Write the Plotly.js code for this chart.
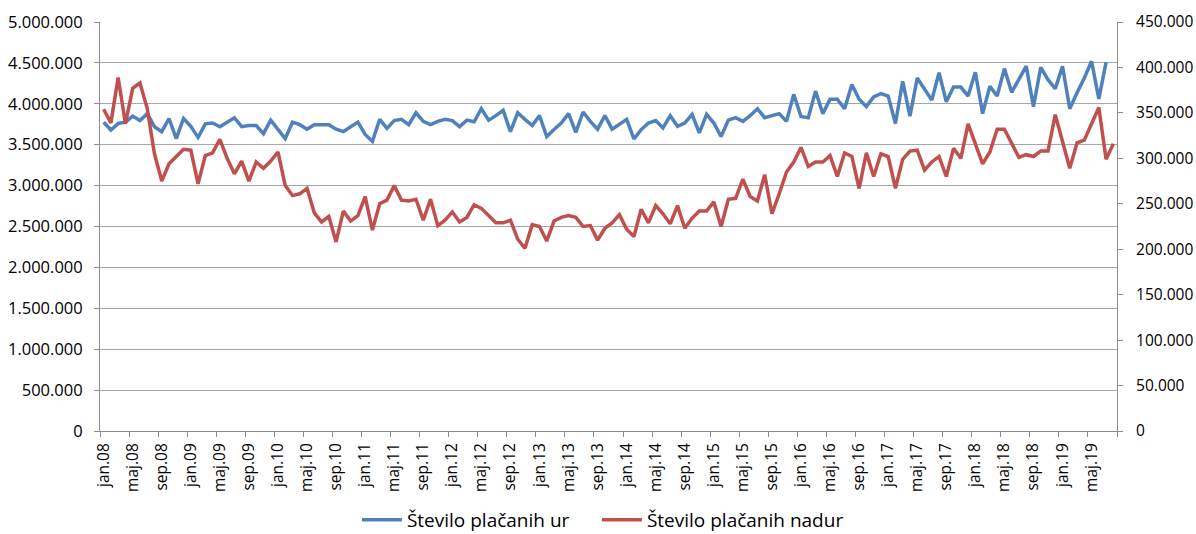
<!DOCTYPE html>
<html>
<head>
<meta charset="utf-8">
<script src="https://cdn.plot.ly/plotly-3.0.1.min.js"></script>
<style>
  html, body { margin: 0; padding: 0; background: #ffffff; }
  #chart { width: 1196px; height: 534px; }
</style>
</head>
<body>
<div id="chart"></div>
<script>
// Month names (Slovenian) and years for the category axis
const monthNames = ["jan","feb","mar","apr","maj","jun","jul","avg","sep","okt","nov","dec"];
const years = ["08","09","10","11","12","13","14","15","16","17","18","19"];
const lastMonthIndex2019 = 7; // data through avg.19

// Število plačanih ur (left axis), jan.08 – jul.19
const placaneUre = [
  3775000, 3680000, 3760000, 3775000, 3850000, 3795000, 3880000, 3720000, 3660000, 3820000, 3575000, 3820000,
  3725000, 3590000, 3755000, 3765000, 3720000, 3780000, 3830000, 3720000, 3735000, 3735000, 3635000, 3800000,
  3685000, 3575000, 3775000, 3745000, 3690000, 3745000, 3745000, 3745000, 3690000, 3660000, 3720000, 3775000,
  3625000, 3540000, 3810000, 3700000, 3795000, 3810000, 3745000, 3890000, 3785000, 3745000, 3785000, 3810000,
  3795000, 3720000, 3800000, 3780000, 3940000, 3800000, 3855000, 3920000, 3660000, 3890000, 3810000, 3735000,
  3855000, 3600000, 3685000, 3765000, 3880000, 3650000, 3900000, 3785000, 3690000, 3855000, 3690000, 3745000,
  3810000, 3570000, 3685000, 3765000, 3795000, 3705000, 3855000, 3725000, 3765000, 3870000, 3645000, 3870000,
  3765000, 3600000, 3800000, 3830000, 3785000, 3855000, 3940000, 3830000, 3855000, 3880000, 3785000, 4115000,
  3845000, 3830000, 4155000, 3880000, 4055000, 4055000, 3940000, 4235000, 4055000, 3965000, 4085000, 4125000,
  4095000, 3760000, 4275000, 3850000, 4315000, 4185000, 4045000, 4380000, 4025000, 4205000, 4205000, 4095000,
  4385000, 3880000, 4215000, 4095000, 4430000, 4140000, 4295000, 4460000, 3965000, 4445000, 4295000, 4185000,
  4460000, 3940000, 4135000, 4315000, 4520000, 4060000, 4510000
];

// Število plačanih nadur (right axis), jan.08 – avg.19
const placaneNadure = [
  354000, 339000, 389000, 338000, 377000, 383000, 355000, 305000, 275000, 294000, 302000, 310000,
  309000, 272000, 303000, 306000, 321000, 300000, 283000, 297000, 275000, 296000, 289000, 297000,
  307000, 270000, 259000, 261000, 267000, 240000, 230000, 236000, 208000, 242000, 231000, 237000,
  258000, 221000, 250000, 254000, 270000, 254000, 253000, 255000, 232000, 255000, 226000, 232000,
  241000, 230000, 235000, 249000, 245000, 237000, 229000, 229000, 232000, 211000, 201000, 227000,
  225000, 209000, 231000, 235000, 237000, 235000, 225000, 226000, 210000, 223000, 229000, 238000,
  222000, 214000, 244000, 229000, 248000, 239000, 228000, 248000, 223000, 234000, 242000, 242000,
  252000, 225000, 255000, 256000, 277000, 258000, 253000, 282000, 239000, 261000, 285000, 296000,
  312000, 291000, 296000, 296000, 303000, 280000, 306000, 302000, 267000, 306000, 280000, 305000,
  302000, 267000, 299000, 308000, 309000, 287000, 296000, 302000, 280000, 311000, 300000, 338000,
  317000, 294000, 307000, 332000, 332000, 317000, 301000, 304000, 302000, 308000, 308000, 348000,
  318000, 289000, 317000, 320000, 338000, 356000, 299000, 316000
];

const seriesNames = ["Število plačanih ur", "Število plačanih nadur"];

// Build category labels like "jan.08"
const categories = [];
years.forEach((y, yi) => {
  monthNames.forEach((m, mi) => {
    if (yi === years.length - 1 && mi > lastMonthIndex2019) return;
    categories.push(m + "." + y);
  });
});

const fontFamily = "'Open Sans', 'Liberation Sans', sans-serif";
const axisGray = "#8c8c8c";

const traces = [
  {
    x: categories.slice(0, placaneUre.length),
    y: placaneUre,
    name: seriesNames[0],
    type: "scatter",
    mode: "lines",
    line: { color: "#4F81BD", width: 3.5 },
    yaxis: "y",
    legendwidth: 185,
    hoverinfo: "skip"
  },
  {
    x: categories.slice(0, placaneNadure.length),
    y: placaneNadure,
    name: seriesNames[1],
    type: "scatter",
    mode: "lines",
    line: { color: "#C0504D", width: 3.5 },
    yaxis: "y2",
    hoverinfo: "skip"
  }
];

const layout = {
  width: 1196,
  height: 534,
  margin: { l: 100, r: 79, t: 22, b: 103 },
  paper_bgcolor: "#ffffff",
  plot_bgcolor: "#ffffff",
  separators: ",.",
  font: { family: fontFamily, size: 16, color: "#000000" },
  showlegend: true,
  legend: {
    orientation: "h",
    xref: "paper",
    x: 0.4945,
    xanchor: "center",
    yref: "container",
    y: 0.0262,
    yanchor: "middle",
    itemwidth: 40,
    bgcolor: "rgba(0,0,0,0)",
    font: { family: fontFamily, size: 19, color: "#000000" },
    traceorder: "normal"
  },
  xaxis: {
    type: "category",
    categoryorder: "array",
    categoryarray: categories,
    range: [-0.5, categories.length - 0.5],
    tickmode: "linear",
    tick0: 0,
    dtick: 4,
    tickson: "boundaries",
    tickangle: -90,
    ticks: "outside",
    ticklen: 5,
    tickcolor: axisGray,
    ticklabelstandoff: 5,
    showline: true,
    linecolor: axisGray,
    linewidth: 1,
    showgrid: false,
    zeroline: false,
    automargin: false,
    tickfont: { family: fontFamily, size: 15.5, color: "#000000" },
    fixedrange: true
  },
  yaxis: {
    range: [0, 5000000],
    tickmode: "linear",
    tick0: 0,
    dtick: 500000,
    tickformat: ",d",
    ticks: "outside",
    ticklen: 5,
    tickcolor: axisGray,
    ticklabelstandoff: 8,
    showline: true,
    linecolor: axisGray,
    linewidth: 1,
    showgrid: true,
    gridcolor: "#a6a6a6",
    gridwidth: 1,
    zeroline: false,
    automargin: false,
    tickfont: { family: fontFamily, size: 16.5, color: "#000000" },
    fixedrange: true
  },
  yaxis2: {
    overlaying: "y",
    side: "right",
    range: [0, 450000],
    tickmode: "linear",
    tick0: 0,
    dtick: 50000,
    tickformat: ",d",
    ticks: "outside",
    ticklen: 5,
    tickcolor: axisGray,
    ticklabelstandoff: 10,
    showline: true,
    linecolor: axisGray,
    linewidth: 1,
    showgrid: false,
    zeroline: false,
    automargin: false,
    tickfont: { family: fontFamily, size: 15.5, color: "#000000" },
    fixedrange: true
  }
};

Plotly.newPlot("chart", traces, layout, { displayModeBar: false, staticPlot: true });
</script>
</body>
</html>
